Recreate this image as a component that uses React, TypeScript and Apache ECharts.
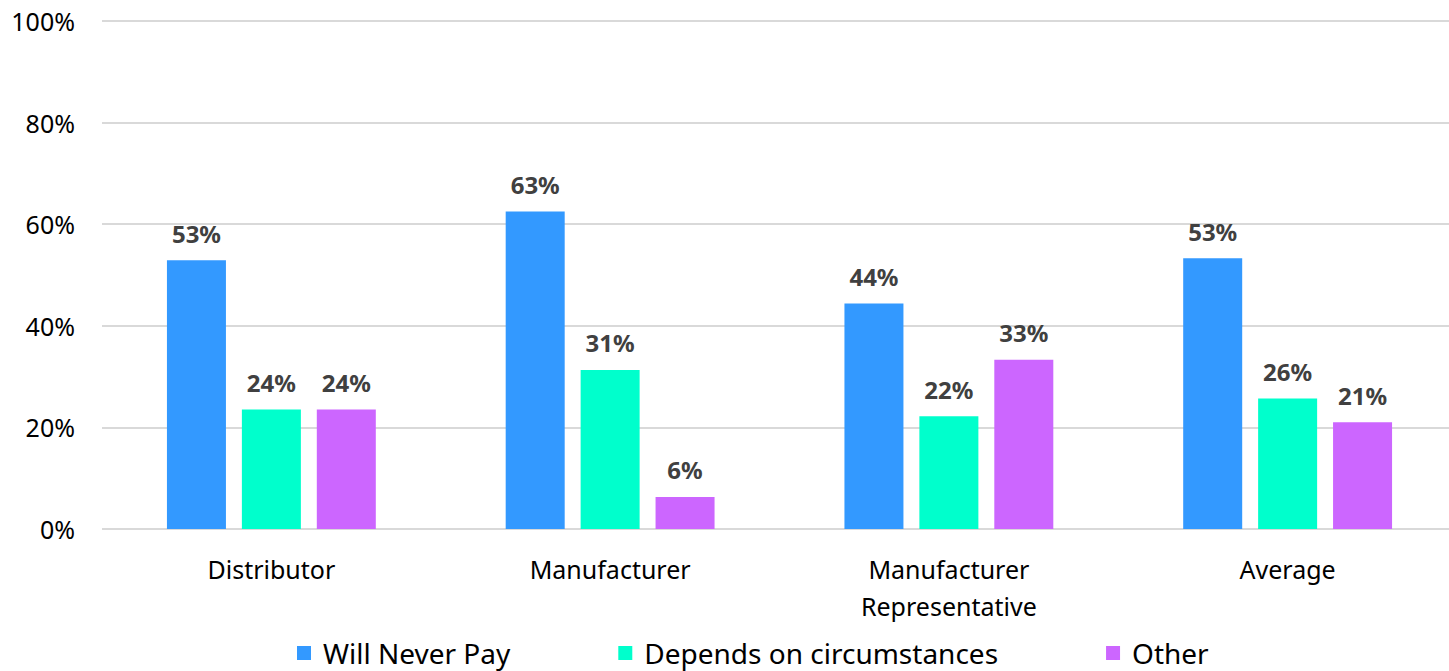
import React, { useEffect, useRef } from "react";
import * as echarts from "echarts";

const categories = ["Distributor", "Manufacturer", "Manufacturer\nRepresentative", "Average"];
const willNeverPay = [52.9, 62.5, 44.4, 53.3];
const dependsOnCircumstances = [23.5, 31.3, 22.2, 25.7];
const other = [23.5, 6.3, 33.3, 21.0];
const yTicks = [0, 20, 40, 60, 80, 100];

const FONT = "'Noto Sans', sans-serif";

export default function App() {
  const ref = useRef<HTMLDivElement>(null);
  useEffect(() => {
    if (!ref.current) return;
    const chart = echarts.init(ref.current, undefined, { renderer: "svg" });
    const label = {
      show: true,
      position: "top" as const,
      distance: 15,
      color: "#404040",
      fontFamily: FONT,
      fontWeight: "bold" as const,
      fontSize: 24,
      formatter: (p: any) => Math.round(p.value) + "%",
    };
    const mk = (name: string, data: number[], color: string) => ({
      name,
      type: "bar" as const,
      data,
      barWidth: 59,
      barGap: "27%",
      itemStyle: { color },
      label,
    });
    chart.setOption({
      animation: false,
      textStyle: { fontFamily: FONT },
      grid: { left: 102, right: 0, top: 21, bottom: 142, containLabel: false },
      legend: {
        bottom: -1,
        left: 292,
        itemWidth: 14,
        itemHeight: 14,
        itemGap: 108,
        icon: "rect",
        textStyle: { fontSize: 28, color: "#000", fontFamily: FONT, padding: [0, 0, 0, 7] },
      },
      xAxis: {
        type: "category",
        data: categories,
        axisLine: { show: false },
        axisTick: { show: false },
        axisLabel: { fontSize: 25, color: "#000", margin: 21, lineHeight: 37, fontFamily: FONT },
      },
      yAxis: {
        type: "value",
        min: yTicks[0],
        max: yTicks[yTicks.length - 1],
        interval: 20,
        axisLabel: { formatter: "{value}%", fontSize: 25, color: "#000", margin: 27, fontFamily: FONT },
        splitLine: { lineStyle: { color: "#d9d9d9", width: 2 } },
        axisLine: { show: false },
        axisTick: { show: false },
      },
      series: [
        mk("Will Never Pay", willNeverPay, "#3399FF"),
        mk("Depends on circumstances", dependsOnCircumstances, "#00FFCC"),
        mk("Other", other, "#CC66FF"),
      ],
    });
    return () => chart.dispose();
  }, []);
  return <div ref={ref} style={{ position: "fixed", left: 0, top: 0, width: 1457, height: 671, background: "#fff" }} />;
}
